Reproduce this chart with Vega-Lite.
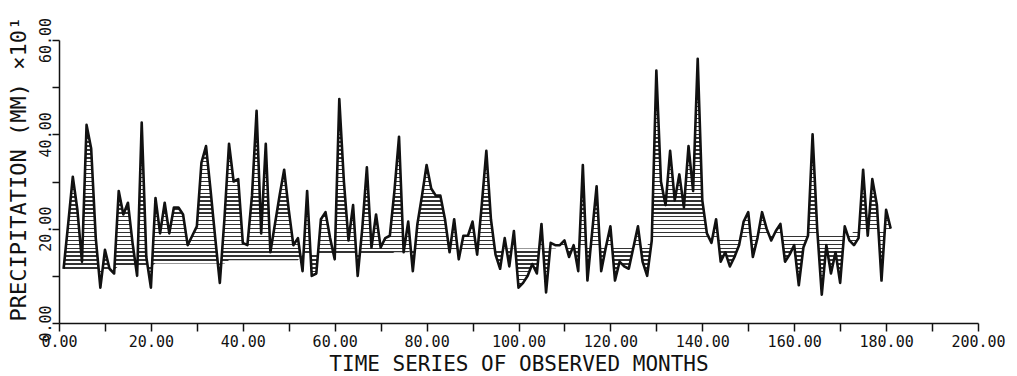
{
  "$schema": "https://vega.github.io/schema/vega-lite/v6.json",
  "width": 919,
  "height": 283,
  "autosize": {"type": "none"},
  "padding": {"left": 59, "top": 40, "right": 39, "bottom": 53},
  "background": "white",
  "config": {"view": {"stroke": null}, "font": "DejaVu Sans Mono"},
  "data": {"values": [
    {"month":1,"precip":11.5,"ref":11.3},{"month":2,"precip":21,"ref":11.3},{"month":3,"precip":31,"ref":11.3},{"month":4,"precip":24,"ref":11.3},{"month":5,"precip":13,"ref":11.3},{"month":6,"precip":42,"ref":11.3},{"month":7,"precip":37,"ref":11.3},{"month":8,"precip":18,"ref":11.3},{"month":9,"precip":7.5,"ref":11.3},{"month":10,"precip":15.5,"ref":11.3},
    {"month":11,"precip":11.5,"ref":11.3},{"month":12,"precip":10.5,"ref":11.3},{"month":13,"precip":28,"ref":12.1},{"month":14,"precip":23,"ref":12.1},{"month":15,"precip":25.5,"ref":12.1},{"month":16,"precip":17,"ref":12.1},{"month":17,"precip":10,"ref":12.1},{"month":18,"precip":42.5,"ref":12.1},{"month":19,"precip":14,"ref":12.1},{"month":20,"precip":7.5,"ref":12.1},
    {"month":21,"precip":26.5,"ref":12.6},{"month":22,"precip":19,"ref":12.6},{"month":23,"precip":25.5,"ref":12.6},{"month":24,"precip":19,"ref":12.6},{"month":25,"precip":24.5,"ref":12.6},{"month":26,"precip":24.5,"ref":12.6},{"month":27,"precip":23,"ref":12.6},{"month":28,"precip":16.5,"ref":12.6},{"month":29,"precip":18.5,"ref":12.6},{"month":30,"precip":20.5,"ref":12.6},
    {"month":31,"precip":34,"ref":12.6},{"month":32,"precip":37.5,"ref":12.6},{"month":33,"precip":28,"ref":12.6},{"month":34,"precip":18,"ref":12.6},{"month":35,"precip":8.5,"ref":12.6},{"month":36,"precip":22,"ref":12.6},{"month":37,"precip":38,"ref":13.3},{"month":38,"precip":30,"ref":13.3},{"month":39,"precip":30.5,"ref":13.3},{"month":40,"precip":17,"ref":13.3},
    {"month":41,"precip":16.5,"ref":13.3},{"month":42,"precip":27,"ref":13.3},{"month":43,"precip":45,"ref":13.3},{"month":44,"precip":19,"ref":13.3},{"month":45,"precip":38,"ref":13.3},{"month":46,"precip":15,"ref":13.3},{"month":47,"precip":21,"ref":13.3},{"month":48,"precip":27,"ref":13.3},{"month":49,"precip":32.5,"ref":13.3},{"month":50,"precip":24,"ref":13.3},
    {"month":51,"precip":16.5,"ref":13.3},{"month":52,"precip":18,"ref":13.3},{"month":53,"precip":11,"ref":14.4},{"month":54,"precip":28,"ref":14.4},{"month":55,"precip":10,"ref":14.4},{"month":56,"precip":10.5,"ref":14.4},{"month":57,"precip":22,"ref":14.4},{"month":58,"precip":23.5,"ref":14.4},{"month":59,"precip":18,"ref":14.4},{"month":60,"precip":13.5,"ref":14.4},
    {"month":61,"precip":47.5,"ref":14.4},{"month":62,"precip":30,"ref":14.4},{"month":63,"precip":17.5,"ref":14.4},{"month":64,"precip":25,"ref":14.4},{"month":65,"precip":10,"ref":14.4},{"month":66,"precip":20,"ref":14.4},{"month":67,"precip":33,"ref":14.4},{"month":68,"precip":16,"ref":14.4},{"month":69,"precip":23,"ref":14.4},{"month":70,"precip":16,"ref":14.4},
    {"month":71,"precip":18,"ref":14.4},{"month":72,"precip":18.5,"ref":14.4},{"month":73,"precip":28,"ref":15.0},{"month":74,"precip":39.5,"ref":15.0},{"month":75,"precip":15,"ref":15.0},{"month":76,"precip":21.5,"ref":15.0},{"month":77,"precip":11,"ref":15.5},{"month":78,"precip":21,"ref":15.5},{"month":79,"precip":27,"ref":15.5},{"month":80,"precip":33.5,"ref":15.5},
    {"month":81,"precip":28.5,"ref":15.5},{"month":82,"precip":27,"ref":15.5},{"month":83,"precip":27,"ref":15.5},{"month":84,"precip":22,"ref":15.5},{"month":85,"precip":15,"ref":15.5},{"month":86,"precip":22,"ref":15.5},{"month":87,"precip":13.5,"ref":15.5},{"month":88,"precip":18.5,"ref":15.5},{"month":89,"precip":18.5,"ref":15.5},{"month":90,"precip":21.5,"ref":15.5},
    {"month":91,"precip":14.5,"ref":15.5},{"month":92,"precip":25,"ref":15.5},{"month":93,"precip":36.5,"ref":15.5},{"month":94,"precip":22,"ref":15.5},{"month":95,"precip":14.5,"ref":15.5},{"month":96,"precip":11.5,"ref":15.5},{"month":97,"precip":18,"ref":15.8},{"month":98,"precip":12,"ref":15.8},{"month":99,"precip":19.5,"ref":15.8},{"month":100,"precip":7.5,"ref":15.8},
    {"month":101,"precip":8.5,"ref":15.8},{"month":102,"precip":10,"ref":15.8},{"month":103,"precip":12.5,"ref":15.8},{"month":104,"precip":10.5,"ref":15.8},{"month":105,"precip":21,"ref":15.8},{"month":106,"precip":6.5,"ref":15.8},{"month":107,"precip":17,"ref":15.8},{"month":108,"precip":16.5,"ref":15.8},{"month":109,"precip":16.5,"ref":16.2},{"month":110,"precip":17.5,"ref":16.2},
    {"month":111,"precip":14,"ref":16.2},{"month":112,"precip":16.5,"ref":16.2},{"month":113,"precip":11,"ref":16.2},{"month":114,"precip":33.5,"ref":16.2},{"month":115,"precip":9,"ref":16.2},{"month":116,"precip":19,"ref":16.2},{"month":117,"precip":29,"ref":16.2},{"month":118,"precip":11,"ref":16.2},{"month":119,"precip":16,"ref":16.2},{"month":120,"precip":20.5,"ref":16.2},
    {"month":121,"precip":9,"ref":16.5},{"month":122,"precip":13,"ref":16.5},{"month":123,"precip":12,"ref":16.5},{"month":124,"precip":11.5,"ref":16.5},{"month":125,"precip":16,"ref":16.5},{"month":126,"precip":20.5,"ref":16.5},{"month":127,"precip":13,"ref":16.5},{"month":128,"precip":10,"ref":16.5},{"month":129,"precip":17.5,"ref":17.7},{"month":130,"precip":53.5,"ref":17.7},
    {"month":131,"precip":30,"ref":17.7},{"month":132,"precip":25,"ref":17.7},{"month":133,"precip":36.5,"ref":17.7},{"month":134,"precip":26,"ref":17.7},{"month":135,"precip":31.5,"ref":17.7},{"month":136,"precip":24.5,"ref":17.7},{"month":137,"precip":37.5,"ref":17.7},{"month":138,"precip":28,"ref":17.7},{"month":139,"precip":56,"ref":17.7},{"month":140,"precip":26,"ref":17.7},
    {"month":141,"precip":19,"ref":17.7},{"month":142,"precip":17,"ref":17.7},{"month":143,"precip":22,"ref":17.7},{"month":144,"precip":13,"ref":17.7},{"month":145,"precip":15,"ref":17.7},{"month":146,"precip":12,"ref":17.7},{"month":147,"precip":14,"ref":17.7},{"month":148,"precip":16.5,"ref":17.7},{"month":149,"precip":21.5,"ref":17.7},{"month":150,"precip":23.5,"ref":18.6},
    {"month":151,"precip":14,"ref":18.6},{"month":152,"precip":18,"ref":18.6},{"month":153,"precip":23.5,"ref":18.6},{"month":154,"precip":20,"ref":18.6},{"month":155,"precip":17.5,"ref":18.6},{"month":156,"precip":19.5,"ref":18.6},{"month":157,"precip":21,"ref":18.6},{"month":158,"precip":13,"ref":18.6},{"month":159,"precip":14.5,"ref":18.6},{"month":160,"precip":16.5,"ref":18.6},
    {"month":161,"precip":8,"ref":18.6},{"month":162,"precip":16,"ref":18.6},{"month":163,"precip":18.5,"ref":18.6},{"month":164,"precip":40,"ref":18.6},{"month":165,"precip":20,"ref":18.6},{"month":166,"precip":6,"ref":18.6},{"month":167,"precip":16.5,"ref":18.6},{"month":168,"precip":10.5,"ref":18.6},{"month":169,"precip":15,"ref":18.6},{"month":170,"precip":8.5,"ref":18.6},
    {"month":171,"precip":20.5,"ref":18.6},{"month":172,"precip":17.5,"ref":18.6},{"month":173,"precip":16.5,"ref":19.4},{"month":174,"precip":18,"ref":19.4},{"month":175,"precip":32.5,"ref":19.4},{"month":176,"precip":18.5,"ref":19.4},{"month":177,"precip":30.5,"ref":19.4},{"month":178,"precip":25,"ref":19.4},{"month":179,"precip":9,"ref":19.4},{"month":180,"precip":24,"ref":19.4},
    {"month":181,"precip":20,"ref":19.4}
  ]},
  "encoding": {
    "x": {
      "field": "month", "type": "quantitative",
      "scale": {"domain": [0, 200], "nice": false, "zero": false},
      "axis": {
        "title": "TIME SERIES OF OBSERVED MONTHS",
        "values": [0,10,20,30,40,50,60,70,80,90,100,110,120,130,140,150,160,170,180,190,200],
        "labelExpr": "datum.value % 20 === 0 ? format(datum.value, '.2f') : ''",
        "grid": false, "labelOverlap": false, "labelFlush": false,
        "domainColor": "#111", "domainWidth": 1.5,
        "tickColor": "#111", "tickWidth": 1.5, "tickSize": 8,
        "labelPadding": 3, "labelFont": "DejaVu Sans Mono", "labelFontSize": 15, "labelColor": "#111",
        "titleFont": "DejaVu Sans Mono", "titleFontSize": 21, "titleFontWeight": "normal", "titleColor": "#111",
        "titleY": 47, "titleBaseline": "alphabetic"
      }
    },
    "y": {
      "field": "precip", "type": "quantitative",
      "scale": {"domain": [0, 60], "nice": false},
      "axis": {
        "title": "PRECIPITATION (MM)  ×10¹",
        "values": [0,10,20,30,40,50,60],
        "labelExpr": "datum.value % 20 === 0 ? format(datum.value, '.2f') : ''",
        "grid": false, "labelOverlap": false, "labelFlush": false,
        "labelAngle": -90, "labelAlign": "center", "labelBaseline": "alphabetic",
        "domainColor": "#111", "domainWidth": 1.5,
        "tickColor": "#111", "tickWidth": 1.5, "tickSize": 7,
        "labelPadding": 2, "labelFont": "DejaVu Sans Mono", "labelFontSize": 15, "labelColor": "#111",
        "titleFont": "DejaVu Sans Mono", "titleFontSize": 22, "titleFontWeight": "normal", "titleColor": "#111",
        "titleAngle": -90, "titleAlign": "left", "titleBaseline": "alphabetic",
        "titleX": -34, "titleY": 281
      }
    }
  },
  "layer": [
    {
      "mark": {
        "type": "area",
        "fill": {
          "gradient": "linear", "x1": 0, "y1": 0, "x2": 0, "y2": 1,
          "stops": [
            {"offset":0,"color":"#333"},{"offset":0.0058,"color":"#333"},{"offset":0.0058,"color":"#fff"},{"offset":0.0167,"color":"#fff"},
            {"offset":0.0167,"color":"#333"},{"offset":0.0225,"color":"#333"},{"offset":0.0225,"color":"#fff"},{"offset":0.0333,"color":"#fff"},
            {"offset":0.0333,"color":"#333"},{"offset":0.0392,"color":"#333"},{"offset":0.0392,"color":"#fff"},{"offset":0.05,"color":"#fff"},
            {"offset":0.05,"color":"#333"},{"offset":0.0558,"color":"#333"},{"offset":0.0558,"color":"#fff"},{"offset":0.0667,"color":"#fff"},
            {"offset":0.0667,"color":"#333"},{"offset":0.0725,"color":"#333"},{"offset":0.0725,"color":"#fff"},{"offset":0.0833,"color":"#fff"},
            {"offset":0.0833,"color":"#333"},{"offset":0.0892,"color":"#333"},{"offset":0.0892,"color":"#fff"},{"offset":0.1,"color":"#fff"},
            {"offset":0.1,"color":"#333"},{"offset":0.1058,"color":"#333"},{"offset":0.1058,"color":"#fff"},{"offset":0.1167,"color":"#fff"},
            {"offset":0.1167,"color":"#333"},{"offset":0.1225,"color":"#333"},{"offset":0.1225,"color":"#fff"},{"offset":0.1333,"color":"#fff"},
            {"offset":0.1333,"color":"#333"},{"offset":0.1392,"color":"#333"},{"offset":0.1392,"color":"#fff"},{"offset":0.15,"color":"#fff"},
            {"offset":0.15,"color":"#333"},{"offset":0.1558,"color":"#333"},{"offset":0.1558,"color":"#fff"},{"offset":0.1667,"color":"#fff"},
            {"offset":0.1667,"color":"#333"},{"offset":0.1725,"color":"#333"},{"offset":0.1725,"color":"#fff"},{"offset":0.1833,"color":"#fff"},
            {"offset":0.1833,"color":"#333"},{"offset":0.1892,"color":"#333"},{"offset":0.1892,"color":"#fff"},{"offset":0.2,"color":"#fff"},
            {"offset":0.2,"color":"#333"},{"offset":0.2058,"color":"#333"},{"offset":0.2058,"color":"#fff"},{"offset":0.2167,"color":"#fff"},
            {"offset":0.2167,"color":"#333"},{"offset":0.2225,"color":"#333"},{"offset":0.2225,"color":"#fff"},{"offset":0.2333,"color":"#fff"},
            {"offset":0.2333,"color":"#333"},{"offset":0.2392,"color":"#333"},{"offset":0.2392,"color":"#fff"},{"offset":0.25,"color":"#fff"},
            {"offset":0.25,"color":"#333"},{"offset":0.2558,"color":"#333"},{"offset":0.2558,"color":"#fff"},{"offset":0.2667,"color":"#fff"},
            {"offset":0.2667,"color":"#333"},{"offset":0.2725,"color":"#333"},{"offset":0.2725,"color":"#fff"},{"offset":0.2833,"color":"#fff"},
            {"offset":0.2833,"color":"#333"},{"offset":0.2892,"color":"#333"},{"offset":0.2892,"color":"#fff"},{"offset":0.3,"color":"#fff"},
            {"offset":0.3,"color":"#333"},{"offset":0.3058,"color":"#333"},{"offset":0.3058,"color":"#fff"},{"offset":0.3167,"color":"#fff"},
            {"offset":0.3167,"color":"#333"},{"offset":0.3225,"color":"#333"},{"offset":0.3225,"color":"#fff"},{"offset":0.3333,"color":"#fff"},
            {"offset":0.3333,"color":"#333"},{"offset":0.3392,"color":"#333"},{"offset":0.3392,"color":"#fff"},{"offset":0.35,"color":"#fff"},
            {"offset":0.35,"color":"#333"},{"offset":0.3558,"color":"#333"},{"offset":0.3558,"color":"#fff"},{"offset":0.3667,"color":"#fff"},
            {"offset":0.3667,"color":"#333"},{"offset":0.3725,"color":"#333"},{"offset":0.3725,"color":"#fff"},{"offset":0.3833,"color":"#fff"},
            {"offset":0.3833,"color":"#333"},{"offset":0.3892,"color":"#333"},{"offset":0.3892,"color":"#fff"},{"offset":0.4,"color":"#fff"},
            {"offset":0.4,"color":"#333"},{"offset":0.4058,"color":"#333"},{"offset":0.4058,"color":"#fff"},{"offset":0.4167,"color":"#fff"},
            {"offset":0.4167,"color":"#333"},{"offset":0.4225,"color":"#333"},{"offset":0.4225,"color":"#fff"},{"offset":0.4333,"color":"#fff"},
            {"offset":0.4333,"color":"#333"},{"offset":0.4392,"color":"#333"},{"offset":0.4392,"color":"#fff"},{"offset":0.45,"color":"#fff"},
            {"offset":0.45,"color":"#333"},{"offset":0.4558,"color":"#333"},{"offset":0.4558,"color":"#fff"},{"offset":0.4667,"color":"#fff"},
            {"offset":0.4667,"color":"#333"},{"offset":0.4725,"color":"#333"},{"offset":0.4725,"color":"#fff"},{"offset":0.4833,"color":"#fff"},
            {"offset":0.4833,"color":"#333"},{"offset":0.4892,"color":"#333"},{"offset":0.4892,"color":"#fff"},{"offset":0.5,"color":"#fff"},
            {"offset":0.5,"color":"#333"},{"offset":0.5058,"color":"#333"},{"offset":0.5058,"color":"#fff"},{"offset":0.5167,"color":"#fff"},
            {"offset":0.5167,"color":"#333"},{"offset":0.5225,"color":"#333"},{"offset":0.5225,"color":"#fff"},{"offset":0.5333,"color":"#fff"},
            {"offset":0.5333,"color":"#333"},{"offset":0.5392,"color":"#333"},{"offset":0.5392,"color":"#fff"},{"offset":0.55,"color":"#fff"},
            {"offset":0.55,"color":"#333"},{"offset":0.5558,"color":"#333"},{"offset":0.5558,"color":"#fff"},{"offset":0.5667,"color":"#fff"},
            {"offset":0.5667,"color":"#333"},{"offset":0.5725,"color":"#333"},{"offset":0.5725,"color":"#fff"},{"offset":0.5833,"color":"#fff"},
            {"offset":0.5833,"color":"#333"},{"offset":0.5892,"color":"#333"},{"offset":0.5892,"color":"#fff"},{"offset":0.6,"color":"#fff"},
            {"offset":0.6,"color":"#333"},{"offset":0.6058,"color":"#333"},{"offset":0.6058,"color":"#fff"},{"offset":0.6167,"color":"#fff"},
            {"offset":0.6167,"color":"#333"},{"offset":0.6225,"color":"#333"},{"offset":0.6225,"color":"#fff"},{"offset":0.6333,"color":"#fff"},
            {"offset":0.6333,"color":"#333"},{"offset":0.6392,"color":"#333"},{"offset":0.6392,"color":"#fff"},{"offset":0.65,"color":"#fff"},
            {"offset":0.65,"color":"#333"},{"offset":0.6558,"color":"#333"},{"offset":0.6558,"color":"#fff"},{"offset":0.6667,"color":"#fff"},
            {"offset":0.6667,"color":"#333"},{"offset":0.6725,"color":"#333"},{"offset":0.6725,"color":"#fff"},{"offset":0.6833,"color":"#fff"},
            {"offset":0.6833,"color":"#333"},{"offset":0.6892,"color":"#333"},{"offset":0.6892,"color":"#fff"},{"offset":0.7,"color":"#fff"},
            {"offset":0.7,"color":"#333"},{"offset":0.7058,"color":"#333"},{"offset":0.7058,"color":"#fff"},{"offset":0.7167,"color":"#fff"},
            {"offset":0.7167,"color":"#333"},{"offset":0.7225,"color":"#333"},{"offset":0.7225,"color":"#fff"},{"offset":0.7333,"color":"#fff"},
            {"offset":0.7333,"color":"#333"},{"offset":0.7392,"color":"#333"},{"offset":0.7392,"color":"#fff"},{"offset":0.75,"color":"#fff"},
            {"offset":0.75,"color":"#333"},{"offset":0.7558,"color":"#333"},{"offset":0.7558,"color":"#fff"},{"offset":0.7667,"color":"#fff"},
            {"offset":0.7667,"color":"#333"},{"offset":0.7725,"color":"#333"},{"offset":0.7725,"color":"#fff"},{"offset":0.7833,"color":"#fff"},
            {"offset":0.7833,"color":"#333"},{"offset":0.7892,"color":"#333"},{"offset":0.7892,"color":"#fff"},{"offset":0.8,"color":"#fff"},
            {"offset":0.8,"color":"#333"},{"offset":0.8058,"color":"#333"},{"offset":0.8058,"color":"#fff"},{"offset":0.8167,"color":"#fff"},
            {"offset":0.8167,"color":"#333"},{"offset":0.8225,"color":"#333"},{"offset":0.8225,"color":"#fff"},{"offset":0.8333,"color":"#fff"},
            {"offset":0.8333,"color":"#333"},{"offset":0.8392,"color":"#333"},{"offset":0.8392,"color":"#fff"},{"offset":0.85,"color":"#fff"},
            {"offset":0.85,"color":"#333"},{"offset":0.8558,"color":"#333"},{"offset":0.8558,"color":"#fff"},{"offset":0.8667,"color":"#fff"},
            {"offset":0.8667,"color":"#333"},{"offset":0.8725,"color":"#333"},{"offset":0.8725,"color":"#fff"},{"offset":0.8833,"color":"#fff"},
            {"offset":0.8833,"color":"#333"},{"offset":0.8892,"color":"#333"},{"offset":0.8892,"color":"#fff"},{"offset":0.9,"color":"#fff"},
            {"offset":0.9,"color":"#333"},{"offset":0.9058,"color":"#333"},{"offset":0.9058,"color":"#fff"},{"offset":0.9167,"color":"#fff"},
            {"offset":0.9167,"color":"#333"},{"offset":0.9225,"color":"#333"},{"offset":0.9225,"color":"#fff"},{"offset":0.9333,"color":"#fff"},
            {"offset":0.9333,"color":"#333"},{"offset":0.9392,"color":"#333"},{"offset":0.9392,"color":"#fff"},{"offset":0.95,"color":"#fff"},
            {"offset":0.95,"color":"#333"},{"offset":0.9558,"color":"#333"},{"offset":0.9558,"color":"#fff"},{"offset":0.9667,"color":"#fff"},
            {"offset":0.9667,"color":"#333"},{"offset":0.9725,"color":"#333"},{"offset":0.9725,"color":"#fff"},{"offset":0.9833,"color":"#fff"},
            {"offset":0.9833,"color":"#333"},{"offset":0.9892,"color":"#333"},{"offset":0.9892,"color":"#fff"},{"offset":1,"color":"#fff"}
          ]
        }
      },
      "encoding": {"y2": {"field": "ref"}}
    },
    {
      "mark": {"type": "line", "color": "#111", "strokeWidth": 2.6, "strokeJoin": "round"},
      "encoding": {}
    }
  ]
}
